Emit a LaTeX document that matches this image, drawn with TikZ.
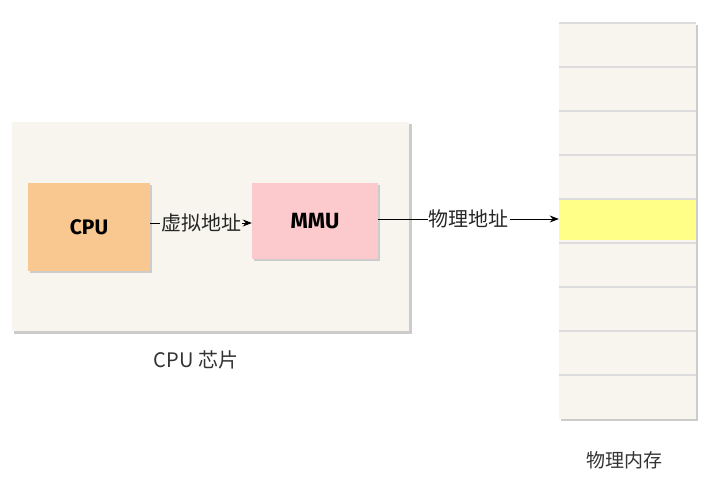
\documentclass[tikz,border=0pt]{standalone}
\usepackage{fontspec}
\setmainfont{Noto Sans CJK SC}
\newfontfamily\lbl{Noto Sans CJK SC}
\newfontfamily\boxfont{Fira Sans}
\usetikzlibrary{arrows.meta}
\definecolor{chipbg}{HTML}{F7F5EE}
\definecolor{cpuorange}{HTML}{F8C890}
\definecolor{mmupink}{HTML}{FCCACC}
\definecolor{memyellow}{HTML}{FFFF88}
\definecolor{rowline}{HTML}{DCDCDC}
\definecolor{shadowgray}{HTML}{CCCCCC}
\tikzset{
  chip/.style={fill=chipbg, draw=none},
  unitbox/.style={draw=none, inner sep=0pt, font=\boxfont\bfseries\fontsize{21}{24}\selectfont},
  conn/.style={-{Stealth[length=9pt,width=7pt]}, line width=0.9pt, black},
  clabel/.style={inner sep=1pt, font=\lbl\fontsize{20}{22}\selectfont, text=black!85},
  caption/.style={font=\lbl\fontsize{20}{22}\selectfont, text=black!80},
}
\begin{document}
\begin{tikzpicture}[x=1pt,y=-1pt]
\useasboundingbox (0,0) rectangle (713,478);
\fill[white] (0,0) rectangle (713,478);
% CPU chip
\fill[shadowgray] (14,124) rectangle (412,334);
\fill[chip] (12,122) rectangle (409,331);
\node[caption] (chiplbl) at (196,360) {CPU 芯片};
% CPU box
\fill[shadowgray] (30,185) rectangle (152,273);
\node[unitbox, fill=cpuorange, minimum width=122pt, minimum height=88pt] (cpu) at (89,227) {CPU};
% MMU box
\fill[shadowgray] (254,185) rectangle (380,261);
\node[unitbox, fill=mmupink, minimum width=126pt, minimum height=76pt, font=\boxfont\bfseries\fontsize{22}{24}\selectfont] (mmu) at (315,221) {MMU};
% memory column
\fill[shadowgray] (561,25) rectangle (698,421);
\foreach \i in {0,...,8} {
  \pgfmathsetmacro{\ya}{23+44*\i}
  \pgfmathsetmacro{\yb}{23+44*(\i+1)}
  \fill[chipbg] (559,\ya) rectangle (696,\yb);
  \draw[rowline, line width=1.2pt] (559,\ya) -- (696,\ya);
}
\fill[memyellow] (559,200) rectangle (696,240);
\node[inner sep=0pt, minimum width=137pt, minimum height=40pt] (mem) at (627.5,220) {};
\node[caption, font=\lbl\fontsize{19}{21}\selectfont] (memlbl) at (624,460) {物理内存};
% connectors
\draw[conn] (cpu.east |- 0,223) -- node[clabel, fill=chipbg] (va) {虚拟地址} (mmu.west |- 0,223);
\draw[conn] (mmu.east |- 0,219) -- node[clabel, fill=white, pos=0.5] (pa) {物理地址} (mem.west |- 0,219);
\end{tikzpicture}
\end{document}
